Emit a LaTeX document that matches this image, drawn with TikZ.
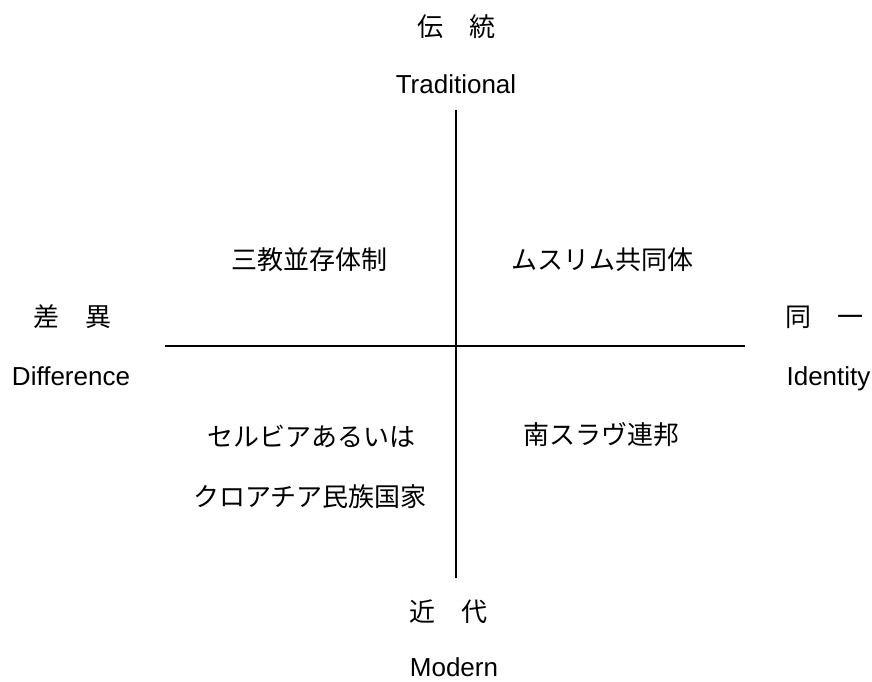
\documentclass[tikz,border=0pt]{standalone}
\usepackage{fontspec}
\setmainfont{Liberation Sans}
\newfontfamily\jp{Noto Sans CJK JP}
\begin{document}
\begin{tikzpicture}[x=1pt,y=-1pt,
  jlab/.style={font=\jp\fontsize{26}{30}\selectfont, anchor=base, inner sep=0pt},
  elab/.style={font=\fontsize{26}{30}\selectfont, anchor=base, inner sep=0pt},
  axisline/.style={line width=1.8pt, black}]
\useasboundingbox (0,0) rectangle (872,681);
% axes
\coordinate (top) at (456,110);
\coordinate (bottom) at (456,578);
\coordinate (left) at (165,346);
\coordinate (right) at (745,346);
\draw[axisline] (top) -- (bottom);
\draw[axisline] (left) -- (right);
% axis labels
\node[jlab] (trad) at (456,36) {伝　統};
\node[elab] (tradE) at (456,93) {Traditional};
\node[jlab] (mod) at (448.5,621) {近　代};
\node[elab] (modE) at (454,676) {Modern};
\node[jlab] (diff) at (72,326) {差　異};
\node[elab] (diffE) at (71,385) {Difference};
\node[jlab] (ident) at (824,326) {同　一};
\node[elab] (identE) at (828.5,385) {Identity};
% quadrant labels
\node[jlab] (q1) at (309,269) {三教並存体制};
\node[jlab] (q2) at (602,269) {ムスリム共同体};
\node[jlab] (q3a) at (311,446) {セルビアあるいは};
\node[jlab] (q3b) at (310,506) {クロアチア民族国家};
\node[jlab] (q4) at (601,444) {南スラヴ連邦};
\end{tikzpicture}
\end{document}
